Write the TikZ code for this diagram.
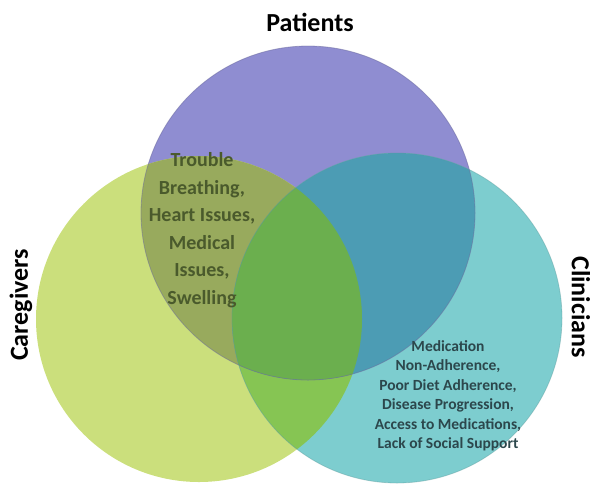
\documentclass[tikz,border=0pt]{standalone}
\usepackage{fontspec}
\setmainfont{Carlito}
\definecolor{patfill}{HTML}{8F8DD1}
\definecolor{carefill}{HTML}{CBDF7C}
\definecolor{clinfill}{HTML}{7DCDCF}
\definecolor{patcare}{HTML}{98AA5D}
\definecolor{patclin}{HTML}{4C9CB4}
\definecolor{careclin}{HTML}{86C553}
\definecolor{allthree}{HTML}{6BAF4E}
\definecolor{oliveink}{HTML}{4A5A2C}
\definecolor{tealink}{HTML}{2C474C}
\begin{document}
\begin{tikzpicture}[x=1pt,y=-1pt,
	grouplabel/.style={font=\bfseries\fontsize{26}{30}\selectfont},
	issuelist/.style={font=\bfseries\fontsize{20}{27.5}\selectfont, align=center, text=oliveink},
	smalllist/.style={font=\bfseries\fontsize{15.5}{19.5}\selectfont, align=center, text=tealink}]
		\useasboundingbox (0,0) rectangle (601,496);
		\def\rpat{167pt}
		\def\rcare{163pt}
		\def\rclin{165pt}
		% centres
			\coordinate (pat) at (308,213);
			\coordinate (care) at (199,319);
			\coordinate (clin) at (397,318);
		% single sets
			\fill [patfill] (pat) circle (\rpat);
			\fill [carefill] (care) circle (\rcare);
			\fill [clinfill] (clin) circle (\rclin);
		% overlaps
			\begin{scope}
				\clip (care) circle (\rcare);
				\fill [careclin] (clin) circle (\rclin);
			\end{scope}
			\begin{scope}
				\clip (pat) circle (\rpat);
				\fill [patcare] (care) circle (\rcare);
				\fill [patclin] (clin) circle (\rclin);
				\clip (care) circle (\rcare);
				\fill [allthree] (clin) circle (\rclin);
			\end{scope}
		% outlines
			\draw [patfill!75!black, line width=0.8pt, draw opacity=0.5] (pat) circle (\rpat);
			\draw [clinfill!75!black, line width=0.8pt, draw opacity=0.4] (clin) circle (\rclin);
		% labels
			\node [grouplabel, anchor=base] (patients) at (310,31) {Patients};
			\node [grouplabel, rotate=90] (caregivers) at (21,305) {Caregivers};
			\node [grouplabel, rotate=-90] (clinicians) at (581,307) {Clinicians};
		% issues
			\node [issuelist] (sympt) at (202,230) {Trouble\\Breathing,\\Heart Issues,\\Medical\\Issues,\\Swelling};
			\node [smalllist] (mgmt) at (448,396) {Medication\\Non-Adherence,\\Poor Diet Adherence,\\Disease Progression,\\Access to Medications,\\Lack of Social Support};
	\end{tikzpicture}
\end{document}
